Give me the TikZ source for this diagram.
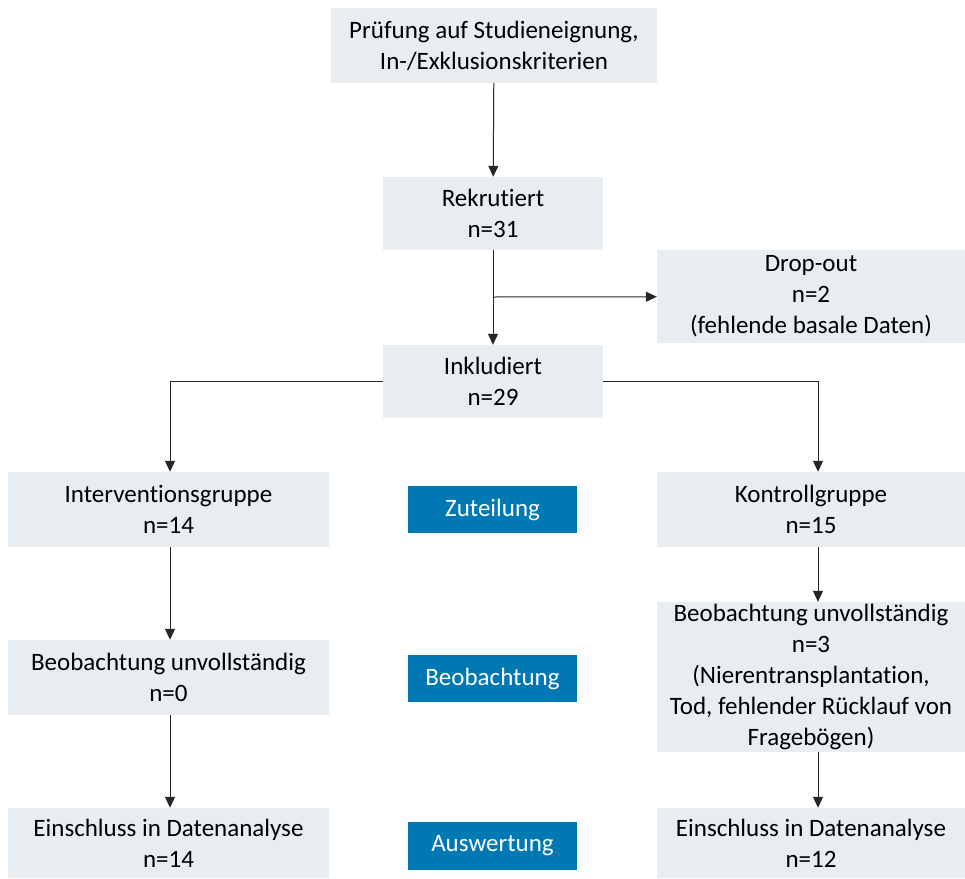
\documentclass[tikz,border=0pt]{standalone}
\usepackage{fontspec}
\setmainfont{Carlito}[Ligatures=NoCommon]
\usepackage{tikz}
\usetikzlibrary{positioning, arrows.meta, calc}
\definecolor{boxgray}{RGB}{232,237,242}
\definecolor{stageblue}{RGB}{0,120,180}

\begin{document}
\begin{tikzpicture}[x=1pt,y=-1pt,
    box/.style={shape=rectangle,fill=boxgray,draw=none,align=center,inner sep=0pt,
        font=\fontsize{25}{31}\selectfont},
    stage/.style={shape=rectangle,fill=stageblue,draw=none,text=white,align=center,
        inner sep=0pt,minimum width=169,minimum height=47,font=\fontsize{25}{31}\selectfont},
    flow/.style={-{Triangle[length=11pt,width=10pt]},line width=1pt,color=black!85}]
    \useasboundingbox (0,0) rectangle (965,878);

    \node[box,minimum width=326,minimum height=75] (pruef) at (494,45.5) {Prüfung auf Studieneignung,\\In-/Exklusionskriterien};
    \node[box,minimum width=220,minimum height=73] (rek) at (493,213.5) {Rekrutiert\\n=31};
    \path [flow] (pruef) edge (rek);
    \node[box,minimum width=308,minimum height=93] (drop) at (811,296.5) {Drop-out\\n=2\\(fehlende basale Daten)};
    \node[box,minimum width=220,minimum height=73] (ink) at (493,381.5) {Inkludiert\\n=29};
    \path [flow] (rek) edge (ink);
    \coordinate (br) at (493,297);
    \path [flow] (br) edge (drop);

    \node[box,minimum width=321,minimum height=75] (ig) at (168.5,509.5) {Interventionsgruppe\\n=14};
    \node[stage] (zut) at (492.5,509.5) {Zuteilung};
    \node[box,minimum width=308,minimum height=75] (kg) at (811,509.5) {Kontrollgruppe\\n=15};
    \draw [flow] (ink.west) -| ([xshift=1.5]ig.north);
    \draw [flow] (ink.east) -| ([xshift=7]kg.north);

    \node[box,minimum width=321,minimum height=75] (beoL) at (168.5,677.5) {Beobachtung unvollständig\\n=0};
    \draw [flow] ([xshift=1.5]ig.south) -- ([xshift=1.5]beoL.north);
    \node[stage] (beob) at (492.5,678.5) {Beobachtung};
    \node[box,minimum width=308,minimum height=150] (beoR) at (811,677) {Beobachtung unvollständig\\n=3\\(Nierentransplantation,\\Tod, fehlender Rücklauf von\\Fragebögen)};
    \draw [flow] ([xshift=7]kg.south) -- ([xshift=7]beoR.north);

    \node[box,minimum width=321,minimum height=70] (einL) at (168.5,843) {Einschluss in Datenanalyse\\n=14};
    \draw [flow] ([xshift=1.5]beoL.south) -- ([xshift=1.5]einL.north);
    \node[stage,minimum height=48] (ausw) at (492.5,846) {Auswertung};
    \node[box,minimum width=308,minimum height=70] (einR) at (811,843) {Einschluss in Datenanalyse\\n=12};
    \draw [flow] ([xshift=7]beoR.south) -- ([xshift=7]einR.north);

  \end{tikzpicture}
\end{document}
